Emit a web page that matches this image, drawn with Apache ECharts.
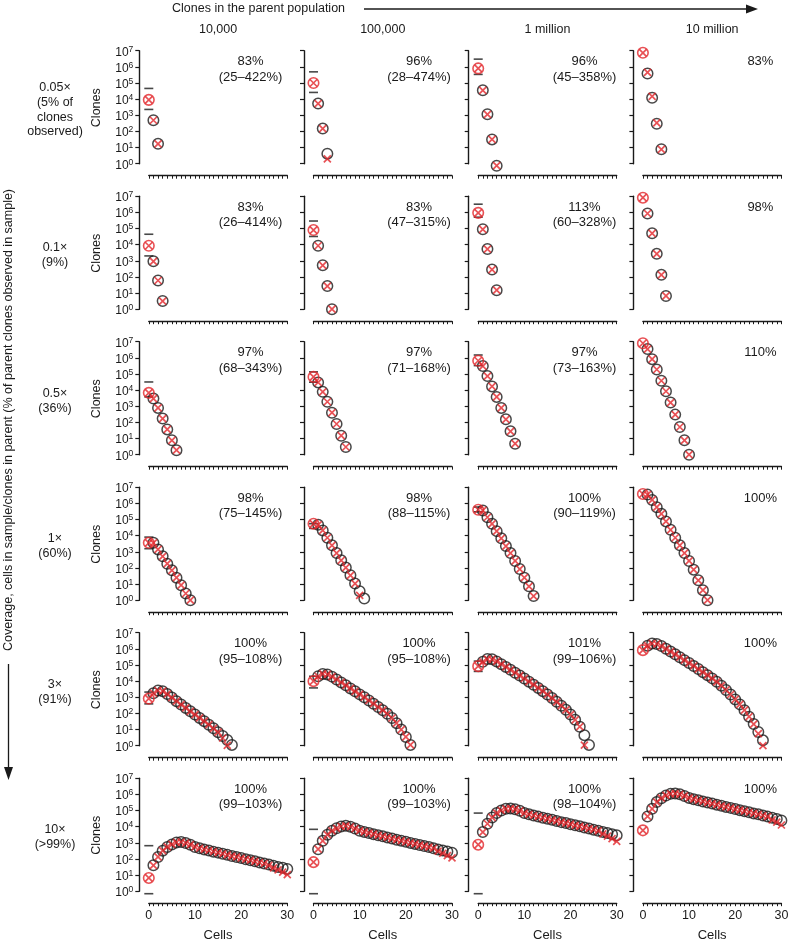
<!DOCTYPE html>
<html><head><meta charset="utf-8">
<script src="https://cdn.jsdelivr.net/npm/echarts@6/dist/echarts.min.js"></script>
<style>html,body{margin:0;padding:0;background:#fff}#c{width:788px;height:943px}</style>
</head><body><div id="c"></div>
<script>
// ---------- labels ----------
const colLabels = ['10,000', '100,000', '1 million', '10 million'];
const rowLabels = ['0.05×\n(5% of\nclones\nobserved)', '0.1×\n(9%)', '0.5×\n(36%)', '1×\n(60%)', '3×\n(91%)', '10×\n(>99%)'];
const estimates = [
  ['83%\n(25–422%)', '96%\n(28–474%)', '96%\n(45–358%)', '83%'],
  ['83%\n(26–414%)', '83%\n(47–315%)', '113%\n(60–328%)', '98%'],
  ['97%\n(68–343%)', '97%\n(71–168%)', '97%\n(73–163%)', '110%'],
  ['98%\n(75–145%)', '98%\n(88–115%)', '100%\n(90–119%)', '100%'],
  ['100%\n(95–108%)', '100%\n(95–108%)', '101%\n(99–106%)', '100%'],
  ['100%\n(99–103%)', '100%\n(99–103%)', '100%\n(98–104%)', '100%']
];
const xTickLabels = [0, 10, 20, 30];

// ---------- data: observed clones with 1,2,3... cells (black circles) ----------
const obs1 = [
  [490, 17],
  [5300, 150, 4.2],
  [35000, 1150, 32, 0.75],
  [390000, 12000, 300, 7.8]
];
const obs2 = [
  [920, 60, 3.2],
  [8500, 525, 27, 1],
  [89000, 5300, 284, 15],
  [850000, 50000, 2700, 134, 6.6]
];
const obs3 = [
  [3000, 790, 172, 37, 7.8, 1.9],
  [30000, 7800, 1900, 400, 80, 15, 3],
  [310000, 74000, 17000, 3800, 790, 155, 28, 4.8],
  [3500000, 830000, 190000, 38000, 8500, 1700, 304, 52, 7.8, 1]
];
const obs4 = [
  [3600, 1400, 525, 182, 71, 25, 8.5, 2.6, 1],
  [47000, 21000, 7400, 2500, 830, 295, 105, 35, 10.7, 3.6, 1.26],
  [363000, 138000, 54000, 19000, 6800, 2240, 830, 270, 85, 25, 7.2, 1.8],
  [3470000, 1620000, 575000, 224000, 76000, 23000, 7400, 2500, 830, 270, 78, 17, 4.2, 1]
];
const obs5 = [
  [1780, 2630, 2400, 1580, 955, 575, 355, 219, 135, 85, 52.5, 33, 20, 12, 6.9, 4, 2.24, 1.12],
  [20000, 28000, 26000, 19000, 12600, 8300, 5500, 3550, 2340, 1510, 1000, 630, 400, 250, 158, 95, 52, 25, 10, 3.5, 1.12],
  [158000, 234000, 224000, 166000, 112000, 76000, 50000, 33000, 22000, 14500, 9300, 6000, 3800, 2400, 1480, 890, 525, 300, 166, 85, 40, 15, 4.5, 1.12],
  [1580000, 2140000, 2000000, 1480000, 1000000, 676000, 457000, 302000, 200000, 132000, 87000, 56000, 36000, 23400, 14800, 9100, 5250, 2820, 1480, 740, 363, 158, 63, 22, 7.1, 2.14]
];
const obs6 = [
  [40, 132, 324, 550, 794, 1050, 1120, 955, 760, 550, 457, 389, 331, 282, 245, 209, 178, 151, 132, 112, 95, 83, 71, 60, 52, 45, 38, 32, 28, 24],
  [400, 1320, 3160, 5500, 7900, 10200, 11200, 9800, 7600, 5600, 4700, 4000, 3400, 2900, 2500, 2140, 1820, 1550, 1350, 1150, 980, 850, 720, 620, 540, 457, 389, 331, 288, 245],
  [4600, 15100, 37000, 69000, 100000, 126000, 132000, 120000, 95500, 69000, 57500, 49000, 41700, 35500, 31000, 26300, 22400, 19000, 16600, 14100, 12000, 10500, 8900, 7600, 6500, 5500, 4700, 4000, 3400, 2900],
  [42700, 126000, 331000, 575000, 851000, 1070000, 1120000, 1000000, 794000, 603000, 501000, 427000, 363000, 309000, 269000, 229000, 195000, 166000, 145000, 123000, 105000, 91000, 78000, 66000, 57500, 49000, 41700, 35500, 30200, 24000]
];

// ---------- data: estimated clones with 1,2,3... cells (red crosses) ----------
const fit1 = [
  [490, 17],
  [5300, 150, 2],
  [35000, 1150, 32, 0.75],
  [450000, 15000, 340, 7.8]
];
const fit2 = [
  [920, 60, 3.2],
  [8500, 525, 27, 1],
  [89000, 5300, 284, 15],
  [850000, 50000, 2700, 134, 6.6]
];
const fit3 = [
  [3000, 790, 172, 37, 7.8, 1.9],
  [30000, 7800, 1900, 400, 80, 15, 3],
  [310000, 74000, 17000, 3800, 790, 155, 28, 4.8],
  [3500000, 830000, 190000, 38000, 8500, 1700, 304, 52, 7.8, 1]
];
const fit4 = [
  [3600, 1400, 525, 182, 71, 25, 8.5, 2.6, 1],
  [47000, 21000, 7400, 2500, 830, 295, 105, 35, 10.7, 2],
  [363000, 138000, 54000, 19000, 6800, 2240, 830, 270, 85, 25, 7.2, 1.8],
  [3470000, 1620000, 575000, 224000, 76000, 23000, 7400, 2500, 830, 270, 78, 17, 4.2, 1]
];
const fit5 = [
  [1780, 2630, 2400, 1580, 955, 575, 355, 219, 135, 85, 52.5, 33, 20, 12, 6.9, 3, 1.05],
  [20000, 28000, 26000, 19000, 12600, 8300, 5500, 3550, 2340, 1510, 1000, 630, 400, 250, 158, 95, 52, 25, 10, 3.5, 1.12],
  [158000, 234000, 224000, 166000, 112000, 76000, 50000, 33000, 22000, 14500, 9300, 6000, 3800, 2400, 1480, 890, 525, 300, 166, 85, 40, 15, 1.1],
  [1580000, 2140000, 2000000, 1480000, 1000000, 676000, 457000, 302000, 200000, 132000, 87000, 56000, 36000, 23400, 14800, 9100, 5250, 2820, 1480, 740, 363, 158, 63, 22, 5.6, 1]
];
const fit6 = [
  [40, 132, 324, 550, 794, 1050, 1120, 955, 760, 550, 457, 389, 331, 282, 245, 209, 178, 151, 132, 112, 95, 83, 71, 60, 52, 40, 28, 21, 15, 10.7],
  [400, 1320, 3160, 5500, 7900, 10200, 11200, 9800, 7600, 5600, 4700, 4000, 3400, 2900, 2500, 2140, 1820, 1550, 1350, 1150, 980, 850, 720, 620, 540, 457, 302, 224, 158, 115],
  [4600, 15100, 37000, 69000, 100000, 126000, 132000, 120000, 95500, 69000, 57500, 49000, 41700, 35500, 31000, 26300, 22400, 19000, 16600, 14100, 12000, 10500, 8900, 7600, 6500, 5500, 3600, 2600, 1820, 1230],
  [42700, 126000, 331000, 575000, 851000, 1070000, 1120000, 1000000, 794000, 603000, 501000, 427000, 363000, 309000, 269000, 229000, 195000, 166000, 145000, 123000, 105000, 91000, 78000, 66000, 57500, 49000, 41700, 26300, 19000, 12600]
];

// ---------- data: estimated unobserved clones (0 cells, red circle) ----------
const missing1 = [9000, 100000, 800000, 7400000];
const missing2 = [8500, 80000, 930000, 8100000];
const missing3 = [6800, 66000, 660000, 8000000];
const missing4 = [3600, 54000, 400000, 3800000];
const missing5 = [830, 10000, 85000, 830000];
const missing6 = [6.6, 63, 760, 5900];

// ---------- data: range of the estimate at 0 cells (black dashes) ----------
const range1 = [[2300, 46000], [26000, 490000], [340000, 3000000], null];
const range2 = [[2000, 44000], [32000, 290000], [500000, 3200000], null];
const range3 = [[3800, 32000], [31000, 135000], [330000, 1500000], null];
const range4 = [[1550, 8100], [28000, 55000], [300000, 590000], null];
const range5 = [[390, 2100], [3800, 20000], [40000, 174000], null];
const range6 = [[0.7, 660], [0.7, 6800], [0.7, 69000], null];

// ---------- build ----------
const OBS = [obs1, obs2, obs3, obs4, obs5, obs6];
const FIT = [fit1, fit2, fit3, fit4, fit5, fit6];
const MISS = [missing1, missing2, missing3, missing4, missing5, missing6];
const RANGE = [range1, range2, range3, range4, range5, range6];

const FF = '"Liberation Sans", Arial, Helvetica, sans-serif';
const INK = '#1a1a1a';
const RED = '#e2252b';
const crossPath = 'path://M0,0L10,10M10,0L0,10';

const grids = [], xAxes = [], yAxes = [], series = [], graphics = [];

const yx0 = 139.3, colStep = 164.7, top0 = 50.7, rowStep = 145.5;
const plotW = 138.5, plotH = 113, yOff = 9.5, xOff = 12;
const pctCenters = [250.5, 419, 584.5, 759];

for (let i = 0; i < 6; i++) {
  for (let j = 0; j < 4; j++) {
    const idx = i * 4 + j;
    const yx = yx0 + colStep * j;
    const top = top0 + rowStep * i;
    grids.push({ left: yx + yOff, top: top, width: plotW, height: plotH, outerBoundsMode: 'none', containLabel: false });
    xAxes.push({
      gridIndex: idx, type: 'value', min: 0, max: 30, interval: 1, offset: xOff,
      axisLine: { show: true, onZero: false, lineStyle: { color: INK, width: 1.4 } },
      axisTick: { show: true, length: 3, lineStyle: { color: INK, width: 1 } },
      splitLine: { show: false },
      axisLabel: {
        show: i === 5, margin: 6, fontSize: 12.5, fontFamily: FF, color: INK,
        showMinLabel: true, showMaxLabel: true,
        formatter: v => xTickLabels.indexOf(v) >= 0 ? String(v) : ''
      }
    });
    yAxes.push({
      gridIndex: idx, type: 'log', logBase: 10, min: 1, max: 1e7, splitNumber: 7, offset: yOff,
      axisLine: { show: true, onZero: false, lineStyle: { color: INK, width: 1.4 } },
      axisTick: { show: true, length: 4, lineStyle: { color: INK, width: 1.2 } },
      splitLine: { show: false },
      axisLabel: {
        show: j === 0, margin: 6, hideOverlap: false,
        formatter: v => '{b|10}{s|' + Math.round(Math.log10(v)) + '}',
        rich: {
          b: { fontSize: 12, lineHeight: 12, fontFamily: FF, color: INK, padding: [3, 0, 0, 0] },
          s: { fontSize: 8.5, lineHeight: 9, fontFamily: FF, color: INK, verticalAlign: 'top' }
        }
      }
    });
    const rng = RANGE[i][j];
    if (rng) {
      series.push({
        type: 'scatter', xAxisIndex: idx, yAxisIndex: idx, silent: true, clip: false, z: 2,
        symbol: 'rect', symbolSize: [9, 1.6], itemStyle: { color: INK },
        data: rng.map(v => [0, v])
      });
    }
    series.push({
      type: 'scatter', xAxisIndex: idx, yAxisIndex: idx, silent: true, clip: false, z: 3,
      symbol: 'circle', symbolSize: 10.5,
      itemStyle: { color: 'rgba(255,255,255,0)', borderColor: INK, borderWidth: 1.5 },
      data: OBS[i][j].map((v, k) => [k + 1, v])
    });
    series.push({
      type: 'scatter', xAxisIndex: idx, yAxisIndex: idx, silent: true, clip: false, z: 4,
      symbol: crossPath, symbolSize: 7,
      itemStyle: { color: 'rgba(255,255,255,0)', borderColor: RED, borderWidth: 1.7 },
      data: [[0, MISS[i][j]]].concat(FIT[i][j].map((v, k) => [k + 1, v]))
    });
    series.push({
      type: 'scatter', xAxisIndex: idx, yAxisIndex: idx, silent: true, clip: false, z: 5,
      symbol: 'circle', symbolSize: 10.5,
      itemStyle: { color: 'rgba(255,255,255,0)', borderColor: RED, borderWidth: 1.6 },
      data: [[0, MISS[i][j]]]
    });

    graphics.push({
      type: 'text', x: j === 3 ? yx + 127 : pctCenters[j], y: top + 3,
      style: { text: estimates[i][j], fontSize: 13, fontFamily: FF, fill: INK, align: 'center', verticalAlign: 'top', lineHeight: 15.5 },
      silent: true
    });
  }
  graphics.push({
    type: 'text', x: 55, y: top0 + rowStep * i + 59,
    style: { text: rowLabels[i], fontSize: 12.5, fontFamily: FF, fill: INK, align: 'center', verticalAlign: 'middle', lineHeight: 14.8 },
    silent: true
  });
  graphics.push({
    type: 'text', x: 97, y: top0 + rowStep * i + 57, rotation: Math.PI / 2,
    style: { text: 'Clones', fontSize: 12.5, fontFamily: FF, fill: INK, align: 'center', verticalAlign: 'middle' },
    silent: true
  });
}
for (let j = 0; j < 4; j++) {
  const cx = yx0 + colStep * j + yOff + plotW / 2;
  graphics.push({
    type: 'text', x: cx, y: 30,
    style: { text: colLabels[j], fontSize: 12.5, fontFamily: FF, fill: INK, align: 'center', verticalAlign: 'middle' },
    silent: true
  });
  graphics.push({
    type: 'text', x: cx, y: 935,
    style: { text: 'Cells', fontSize: 13, fontFamily: FF, fill: INK, align: 'center', verticalAlign: 'middle' },
    silent: true
  });
}
graphics.push({
  type: 'text', x: 172, y: 9,
  style: { text: 'Clones in the parent population', fontSize: 12.5, fontFamily: FF, fill: INK, align: 'left', verticalAlign: 'middle' },
  silent: true
});
graphics.push({ type: 'line', shape: { x1: 364, y1: 9, x2: 750, y2: 9 }, style: { stroke: INK, lineWidth: 1.3 }, silent: true });
graphics.push({ type: 'polygon', shape: { points: [[746, 4.5], [758, 9], [746, 13.5]] }, style: { fill: INK }, silent: true });
graphics.push({
  type: 'text', x: 8.5, y: 420, rotation: Math.PI / 2,
  style: { text: 'Coverage, cells in sample/clones in parent (% of parent clones observed in sample)', fontSize: 12.5, fontFamily: FF, fill: INK, align: 'center', verticalAlign: 'middle' },
  silent: true
});
graphics.push({ type: 'line', shape: { x1: 8.5, y1: 664, x2: 8.5, y2: 770 }, style: { stroke: INK, lineWidth: 1.3 }, silent: true });
graphics.push({ type: 'polygon', shape: { points: [[4, 767], [8.5, 780], [13, 767]] }, style: { fill: INK }, silent: true });

const chart = echarts.init(document.getElementById('c'), null, { renderer: 'canvas' });
chart.setOption({
  animation: false,
  backgroundColor: '#fff',
  grid: grids, xAxis: xAxes, yAxis: yAxes, series: series,
  graphic: { elements: graphics }
});
</script>
</body></html>
